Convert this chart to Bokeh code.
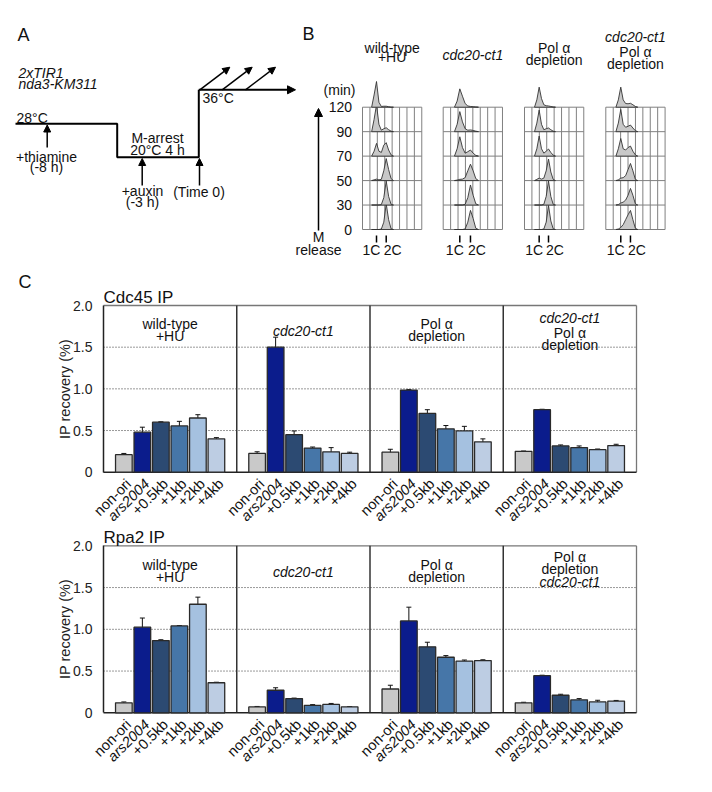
import math
from bokeh.plotting import figure
from bokeh.models import (Range1d, ColumnDataSource, Whisker, TeeHead, Arrow, NormalHead,
                          FixedTicker, LinearAxis)
from bokeh.core.properties import value
from bokeh.embed import file_html
from bokeh.resources import INLINE

FONT = "Liberation Sans"

# ---------------- data ----------------
sites = ["non-ori", "ars2004", "+0.5kb", "+1kb", "+2kb", "+4kb"]
site_italic = [False, True, False, False, False, False]

cdc45_wt_hu = [0.21, 0.48, 0.60, 0.555, 0.65, 0.40]
cdc45_wt_hu_err = [0.015, 0.06, 0.005, 0.055, 0.04, 0.015]
cdc45_cdc20 = [0.225, 1.50, 0.45, 0.29, 0.245, 0.225]
cdc45_cdc20_err = [0.02, 0.12, 0.045, 0.012, 0.05, 0.015]
cdc45_pol = [0.24, 0.985, 0.705, 0.52, 0.495, 0.365]
cdc45_pol_err = [0.035, 0.006, 0.045, 0.04, 0.055, 0.035]
cdc45_cdc20_pol = [0.25, 0.75, 0.315, 0.295, 0.27, 0.32]
cdc45_cdc20_pol_err = [0.004, 0.005, 0.012, 0.02, 0.008, 0.015]

rpa2_wt_hu = [0.12, 1.025, 0.865, 1.04, 1.30, 0.36]
rpa2_wt_hu_err = [0.01, 0.11, 0.01, 0.004, 0.085, 0.006]
rpa2_cdc20 = [0.07, 0.27, 0.17, 0.09, 0.10, 0.072]
rpa2_cdc20_err = [0.006, 0.03, 0.006, 0.008, 0.012, 0.002]
rpa2_pol = [0.285, 1.10, 0.79, 0.665, 0.62, 0.625]
rpa2_pol_err = [0.045, 0.165, 0.055, 0.02, 0.012, 0.01]
rpa2_cdc20_pol = [0.12, 0.445, 0.21, 0.155, 0.13, 0.14]
rpa2_cdc20_pol_err = [0.006, 0.005, 0.012, 0.015, 0.02, 0.008]

cdc45_headers = [
    [("wild-type", False), ("+HU", False)],
    [("cdc20-ct1", True)],
    [("Pol α", False), ("depletion", False)],
    [("cdc20-ct1", True), ("Pol α", False), ("depletion", False)],
]
rpa2_headers = [
    [("wild-type", False), ("+HU", False)],
    [("cdc20-ct1", True)],
    [("Pol α", False), ("depletion", False)],
    [("Pol α", False), ("depletion", False), ("cdc20-ct1", True)],
]
y_ticks = [0, 0.5, 1.0, 1.5, 2.0]
y_tick_labels = ["0", "0.5", "1.0", "1.5", "2.0"]
grid_vals = [0.5, 1.0, 1.5]

# panel B: flow cytometry profiles (heights in row units), sampled at
# positions relative to 1C (0) and 2C (1)
hist_r = [-0.5, -0.25, 0, 0.25, 0.5, 0.75, 1.0, 1.25, 1.5, 1.75]
times = ["0", "30", "50", "70", "90", "120"]
hist_wt_hu = [
    [0, 0, 0, 0, 0.02, 0.30, 1.05, 0.40, 0.03, 0],
    [0, 0, 0, 0, 0.02, 0.30, 0.98, 0.35, 0.03, 0],
    [0, 0.03, 0.06, 0.03, 0.05, 0.40, 0.90, 0.45, 0.08, 0],
    [0, 0.20, 0.52, 0.20, 0.15, 0.45, 0.55, 0.25, 0.05, 0],
    [0, 0.50, 1.10, 0.30, 0.06, 0.12, 0.16, 0.08, 0.02, 0],
    [0, 0.50, 1.05, 0.20, 0.03, 0.04, 0.04, 0.02, 0, 0],
]
hist_cdc20 = [
    [0, 0, 0, 0, 0.02, 0.30, 0.78, 0.45, 0.05, 0],
    [0, 0, 0, 0, 0.03, 0.30, 0.82, 0.40, 0.05, 0],
    [0, 0.02, 0.05, 0.06, 0.12, 0.40, 0.67, 0.40, 0.08, 0],
    [0, 0.30, 0.79, 0.35, 0.12, 0.18, 0.25, 0.12, 0.03, 0],
    [0, 0.30, 0.82, 0.40, 0.12, 0.06, 0.07, 0.05, 0.02, 0],
    [0, 0.25, 0.75, 0.45, 0.15, 0.05, 0.03, 0.02, 0.01, 0],
]
hist_pol = [
    [0, 0, 0, 0, 0.02, 0.30, 0.98, 0.35, 0.03, 0],
    [0, 0, 0, 0, 0.03, 0.35, 0.98, 0.35, 0.03, 0],
    [0, 0.05, 0.10, 0.06, 0.10, 0.40, 0.88, 0.35, 0.05, 0],
    [0, 0.30, 0.82, 0.30, 0.12, 0.20, 0.29, 0.15, 0.04, 0],
    [0, 0.35, 0.88, 0.30, 0.08, 0.12, 0.15, 0.08, 0.02, 0],
    [0, 0.30, 0.82, 0.35, 0.10, 0.06, 0.05, 0.03, 0.01, 0],
]
hist_cdc20_pol = [
    [0, 0.02, 0.08, 0.20, 0.40, 0.60, 0.78, 0.40, 0.05, 0],
    [0, 0.02, 0.08, 0.12, 0.20, 0.40, 0.68, 0.40, 0.05, 0],
    [0, 0.03, 0.10, 0.12, 0.20, 0.45, 0.70, 0.40, 0.05, 0],
    [0, 0.30, 0.72, 0.30, 0.25, 0.35, 0.41, 0.20, 0.05, 0],
    [0, 0.35, 0.91, 0.30, 0.18, 0.22, 0.27, 0.15, 0.04, 0],
    [0, 0.30, 0.82, 0.30, 0.15, 0.14, 0.16, 0.10, 0.03, 0],
]
hist_headers = [
    [("wild-type", False), ("+HU", False)],
    [("cdc20-ct1", True)],
    [("Pol α", False), ("depletion", False)],
    [("cdc20-ct1", True), ("Pol α", False), ("depletion", False)],
]

# ---------------- styles / layout ----------------
site_colors = ["#c9c9c9", "#0b1c8c", "#2c4a72", "#4676a8", "#a5c1e0", "#bdcde3"]
GW = 7.2        # group width in x units
G0 = 1.1        # first bar centre within group
BW = 0.9
TXT = "14px"
INK = "#111111"
W, H = 696, 776
PAGE_X0, PAGE_Y0 = 0, 0

# one canvas; default ranges are picture pixels (y downwards)
p = figure(width=W, height=H, x_range=Range1d(PAGE_X0, PAGE_X0 + W),
           y_range=Range1d(PAGE_Y0 + H, PAGE_Y0), output_backend="svg",
           toolbar_location=None, min_border=0, x_axis_location=None,
           y_axis_location=None, outline_line_color=None, title=None)
p.grid.visible = False

# bar-chart scales: x 0..28.8 -> px 103..636 ; y 0..2 -> frame heights
FX0, FX1 = 103.0, 636.0
NGROUP = 4
bx_scale = (FX1 - FX0) / (NGROUP * GW)
p.extra_x_ranges["bx"] = Range1d(-(FX0 - PAGE_X0) / bx_scale,
                                 -(FX0 - PAGE_X0) / bx_scale + W / bx_scale)


def add_y_range(name, y0px, y2px):
    s = (y0px - y2px) / 2.0
    lo = -(PAGE_Y0 + H - y0px) / s
    p.extra_y_ranges[name] = Range1d(lo, lo + H / s)


add_y_range("cy", 471.7, 305.0)
add_y_range("ry", 712.3, 545.3)


def txt(x, y, s, size=TXT, align="center", style="normal"):
    p.text(x=[x], y=[y], text=[s], text_align=align, text_baseline="middle",
           text_font=value(FONT), text_font_size=size, text_font_style=style,
           text_color=INK)


def arrow(x0, y0, x1, y1, lw=1.5, size=7):
    p.add_layout(Arrow(end=NormalHead(size=size, fill_color="black", line_color="black",
                                      line_width=1),
                       x_start=x0, y_start=y0, x_end=x1, y_end=y1,
                       line_width=lw, line_color="black"))


def bar_chart(yr, title, vals, errs, headers, head_y, title_y):
    kw = dict(x_range_name="bx", y_range_name=yr)
    n = len(vals)
    right = n * GW
    p.segment(x0=[0] * len(grid_vals), y0=grid_vals, x1=[right] * len(grid_vals),
              y1=grid_vals, line_color="#333333", line_width=1, line_dash="1 2", **kw)
    p.segment(x0=[0, right], y0=[2.0, 0], x1=[right, right], y1=[2.0, 2.0],
              line_color="#777777", line_width=1.3, **kw)
    divs = [g * GW for g in range(1, n)]
    p.segment(x0=divs, y0=0, x1=divs, y1=2.0, line_color="#333333", line_width=1.5, **kw)
    p.segment(x0=[0], y0=[0], x1=[right], y1=[0], line_color="#222222", line_width=1.5, **kw)

    xs, tops, cols, lo, hi = [], [], [], [], []
    lab_n = dict(x=[], y=[], t=[])
    lab_i = dict(x=[], y=[], t=[])
    for g, (v, e) in enumerate(zip(vals, errs)):
        for i, (vv, ee) in enumerate(zip(v, e)):
            x = g * GW + G0 + i
            xs.append(x); tops.append(vv); cols.append(site_colors[i])
            lo.append(vv - ee); hi.append(vv + ee)
            d = lab_i if site_italic[i] else lab_n
            d["x"].append(x + 0.25); d["y"].append(-0.11); d["t"].append(sites[i])
    src = ColumnDataSource(dict(x=xs, top=tops, color=cols, lower=lo, upper=hi))
    p.vbar(x="x", top="top", width=BW, fill_color="color", line_color="#2a2a2a",
           line_width=1.3, source=src, **kw)
    p.add_layout(Whisker(source=src, base="x", upper="upper", lower="lower",
                         line_color=INK, line_width=1,
                         upper_head=TeeHead(size=5, line_color=INK, line_width=1),
                         lower_head=TeeHead(size=5, line_color=INK, line_width=1), **kw))
    for d, style in ((lab_n, "normal"), (lab_i, "italic")):
        p.text(x="x", y="y", text="t", source=ColumnDataSource(d),
               angle=math.pi / 4, text_align="right", text_baseline="middle",
               text_font=value(FONT), text_font_size="14.5px",
               text_font_style=style, text_color=INK, **kw)
    for g, lines in enumerate(headers):
        for (t, it), yy in zip(lines, head_y[g]):
            p.text(x=[g * GW + GW / 2], y=[yy], text=[t], text_align="center",
                   text_baseline="alphabetic", text_font=value(FONT), text_font_size=TXT,
                   text_font_style="italic" if it else "normal", text_color=INK, **kw)
    p.text(x=[0], y=[title_y], text=[title], text_align="left", text_baseline="alphabetic",
           text_font=value(FONT), text_font_size="17px", text_color=INK, **kw)

    ax = LinearAxis(y_range_name=yr, fixed_location=FX0, bounds=(0, 2.0),
                    ticker=FixedTicker(ticks=y_ticks),
                    major_label_overrides={t: l for t, l in zip(y_ticks, y_tick_labels)},
                    major_tick_line_color=None, minor_tick_line_color=None,
                    axis_line_color="#222222", axis_line_width=1.5,
                    major_label_standoff=5, major_label_text_font=FONT,
                    major_label_text_font_size="14px", major_label_text_color="#222222",
                    axis_label="IP recovery (%)", axis_label_text_font=FONT,
                    axis_label_text_font_size="14.5px", axis_label_text_font_style="normal",
                    axis_label_text_color="#222222", axis_label_standoff=-3)
    p.add_layout(ax, "left")


cdc45_head_y = [[1.777, 1.629], [1.689], [1.777, 1.636], [1.849, 1.669, 1.529]]
rpa2_head_y = [[1.776, 1.632], [1.692], [1.776, 1.632], [1.863, 1.725, 1.564]]

bar_chart("cy", "Cdc45 IP",
          [cdc45_wt_hu, cdc45_cdc20, cdc45_pol, cdc45_cdc20_pol],
          [cdc45_wt_hu_err, cdc45_cdc20_err, cdc45_pol_err, cdc45_cdc20_pol_err],
          cdc45_headers, cdc45_head_y, 2.09)
bar_chart("ry", "Rpa2 IP",
          [rpa2_wt_hu, rpa2_cdc20, rpa2_pol, rpa2_cdc20_pol],
          [rpa2_wt_hu_err, rpa2_cdc20_err, rpa2_pol_err, rpa2_cdc20_pol_err],
          rpa2_headers, rpa2_head_y, 2.105)

# ---------------- Panel A schematic ----------------
txt(17, 34, "A", size="18px", align="left")
txt(18, 72, "2xTIR1", align="left", style="italic")
txt(18, 83.5, "nda3-KM311", align="left", style="italic")
p.line([15, 116.7, 116.7, 198.3, 198.3], [123.3, 123.3, 156.7, 156.7, 89.3],
       line_width=2, line_color="black")
arrow(198.3, 89.3, 295, 89.3, lw=2, size=8)
for xa in (199.3, 221.7, 245):
    arrow(xa, 89.3, xa + 30, 66.7, lw=1.5, size=7)
arrow(46.7, 147, 46.7, 124.5)
arrow(141.7, 185, 141.7, 158)
arrow(199, 185, 199, 158)
txt(16, 117.5, "28°C", align="left")
txt(46, 156, "+thiamine")
txt(46, 166.5, "(-8 h)")
txt(157, 137.5, "M-arrest")
txt(157, 149, "20°C 4 h")
txt(142, 190, "+auxin")
txt(142, 201.5, "(-3 h)")
txt(198.5, 191.5, "(Time 0)")
txt(202, 97.5, "36°C", align="left")

# ---------------- Panel B ----------------
txt(302, 33, "B", size="18px", align="left")
panel_left = [362, 442.7, 524, 605.3]
col_w = 7.41
n_cols = 8
row_base0 = 229.0
row_h = 24.46
tick_cols = [(1.89, 3.2), (2.24, 3.68), (1.98, 3.24), (2.02, 3.33)]
hist_all = [hist_wt_hu, hist_cdc20, hist_pol, hist_cdc20_pol]
head_pos = [[47.3, 56.5], [54.3], [47.3, 59.3], [36.7, 51.7, 63.3]]

for k, pl in enumerate(panel_left):
    pr = pl + n_cols * col_w
    ytop = row_base0 - 5 * row_h
    p.multi_line(xs=[[pl + c * col_w] * 2 for c in range(n_cols + 1)],
                 ys=[[ytop, row_base0]] * (n_cols + 1), line_color="#808080", line_width=1)
    p.multi_line(xs=[[pl, pr]] * 6, ys=[[row_base0 - j * row_h] * 2 for j in range(6)],
                 line_color="#808080", line_width=1)
    c1, c2 = tick_cols[k]
    pxs, pys = [], []
    for j, h in enumerate(hist_all[k]):
        base = row_base0 - j * row_h
        pxs.append([pl + (c1 + r * (c2 - c1)) * col_w for r in hist_r])
        pys.append([base - hh * row_h for hh in h])
    p.patches(xs=pxs, ys=pys, fill_color="#c8c8c8", line_color="#333333", line_width=0.9)
    t1 = pl + c1 * col_w
    t2 = pl + c2 * col_w
    p.segment(x0=[t1, t2], y0=235, x1=[t1, t2], y1=242, line_color="black", line_width=1.5)
    txt(t1 - 5, 249.5, "1C")
    txt(t2 + 6.5, 249.5, "2C")
    cx = (pl + pr) / 2
    for (t, it), yy in zip(hist_headers[k], head_pos[k]):
        txt(cx, yy, t, style="italic" if it else "normal")

txt(355, 89.3, "(min)", align="right")
for j, t in enumerate(times):
    txt(351.5, row_base0 - j * row_h, t, align="right")
arrow(318, 230, 318, 108, lw=1.5, size=8)
txt(318, 236.5, "M")
txt(318, 249.5, "release")

# ---------------- Panel C letter ----------------
txt(18, 281.5, "C", size="18px", align="left")

open("out.html", "w").write(file_html(p, INLINE))
